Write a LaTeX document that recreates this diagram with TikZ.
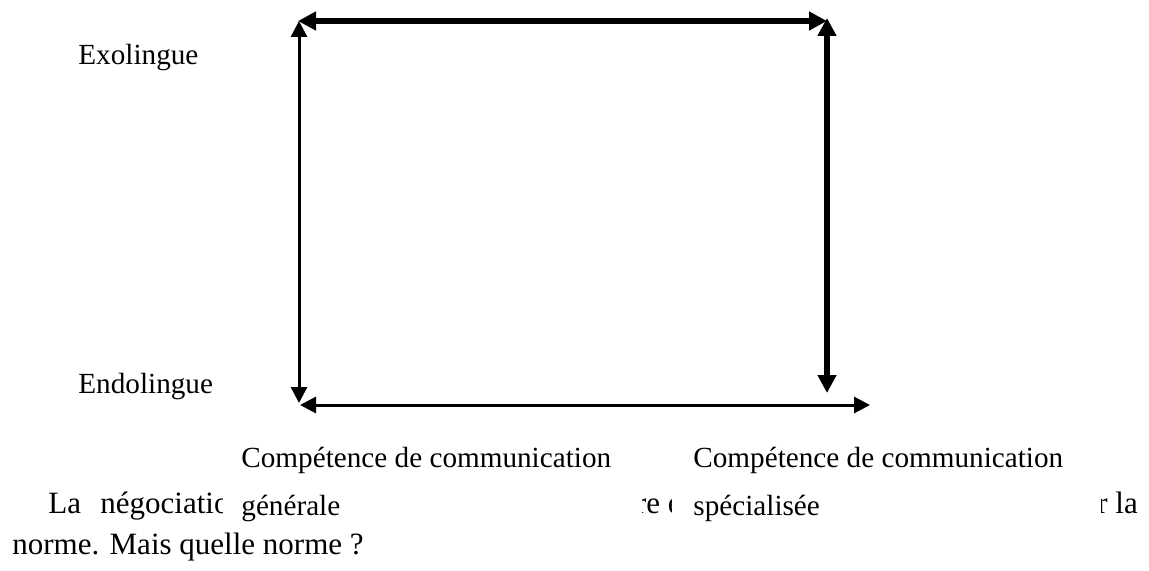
\documentclass[tikz,border=0pt]{standalone}
\usepackage{fontspec}
\setmainfont{Liberation Serif}
\usetikzlibrary{arrows.meta}
\begin{document}
\begin{tikzpicture}[x=0.5pt,y=-0.5pt,
  lbl/.style={anchor=base west,inner sep=0pt,font=\fontsize{14.6}{17}\selectfont},
  body/.style={anchor=base west,inner sep=0pt,font=\fontsize{15.5}{18}\selectfont},
  heavyarrow/.style={line width=3pt,{Triangle[length=9pt,width=9pt]}-{Triangle[length=9pt,width=9pt]}},
  lightarrow/.style={line width=1.5pt,{Triangle[length=8pt,width=8pt]}-{Triangle[length=8pt,width=8pt]}},
  textbox/.style={fill=white,draw=none}]
\useasboundingbox (0,0) rectangle (1149,571);

% running text of the page
\node[body] (la) at (48,513) {La};
\node[body] (neg) at (100,513) {négociation};
\node[body] (frag) at (635.6,513) {re e};
\node[body,anchor=base east] (fragr) at (1108,513) {r};
\node[body] (lala) at (1115,513) {la};
\node[body] (norme) at (12,554) {norme. Mais quelle norme ?};

% text boxes lying over the running text
\fill[textbox] (223,432) rectangle (642,528);
\fill[textbox] (672,432) rectangle (1101,528);
\node[lbl] (gen1) at (241,467) {Compétence de communication};
\node[lbl] (gen2) at (241,515) {générale};
\node[lbl] (spe1) at (693,467) {Compétence de communication};
\node[lbl] (spe2) at (693,515) {spécialisée};

% axis labels
\node[lbl] (exo) at (78,65) {Exolingue};
\node[lbl] (endo) at (78,393) {Endolingue};

% arrow end points
\coordinate (tl) at (298,21);
\coordinate (tr) at (827,21);
\coordinate (lt) at (299,21);
\coordinate (lb) at (299,403);
\coordinate (rt) at (827,18);
\coordinate (rb) at (827,393);
\coordinate (bl) at (300,405);
\coordinate (br) at (870,405);

\draw[heavyarrow] (tl) -- (tr);
\draw[lightarrow] (lt) -- (lb);
\draw[heavyarrow] (rt) -- (rb);
\draw[lightarrow] (bl) -- (br);
\end{tikzpicture}
\end{document}
